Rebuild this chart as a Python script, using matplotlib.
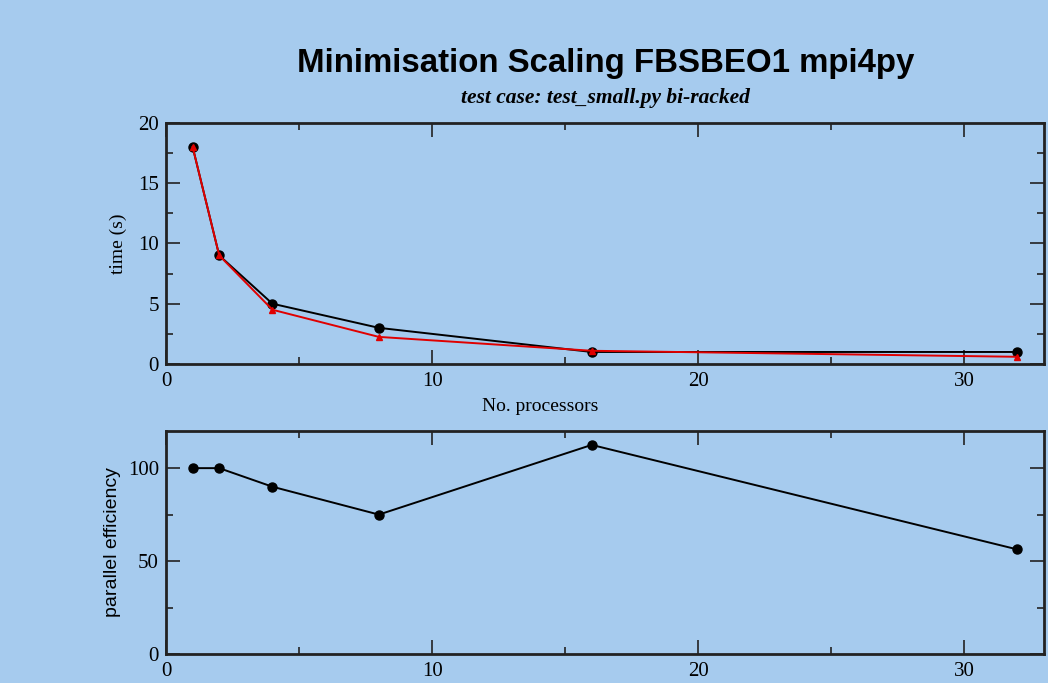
#!/usr/bin/env python
# -*- coding: utf-8 -*-
import matplotlib
matplotlib.use("Agg")
import matplotlib.pyplot as plt
from matplotlib.ticker import MultipleLocator

# data
procs = [1, 2, 4, 8, 16, 32]
time_black = [18, 9, 5, 3, 1, 1]
time_red = [18, 9, 4.5, 2.25, 1.1, 0.6]
efficiency = [100, 100, 90, 75, 112.5, 56.25]

title = "Minimisation Scaling FBSBEO1 mpi4py"
subtitle = "test case: test_small.py bi-racked"

bg = "#a6cbee"
serif = ["Liberation Serif", "DejaVu Serif"]
sans = ["Liberation Sans", "DejaVu Sans"]


def style_axes(ax, xmaj, xmin, ymaj, ymin):
    ax.set_facecolor(bg)
    for s in ax.spines.values():
        s.set_linewidth(2)
        s.set_color("#222222")
    ax.xaxis.set_major_locator(MultipleLocator(xmaj))
    ax.xaxis.set_minor_locator(MultipleLocator(xmin))
    ax.yaxis.set_major_locator(MultipleLocator(ymaj))
    ax.yaxis.set_minor_locator(MultipleLocator(ymin))
    ax.tick_params(which="both", direction="in", top=True, right=True,
                   color="#222222")
    ax.tick_params(which="major", length=10, width=1.2, labelsize=15)
    ax.tick_params(axis="x", which="major", pad=6)
    ax.tick_params(axis="y", which="major", pad=5)
    ax.tick_params(which="minor", length=5, width=1.2)
    for lab in ax.get_xticklabels() + ax.get_yticklabels():
        lab.set_family(serif)


fig = plt.figure(figsize=(10.48, 6.83), dpi=100)
fig.patch.set_facecolor(bg)

ax1 = fig.add_axes([0.1584, 0.467, 0.8378, 0.3533])
ax1.plot(procs, time_black, color="black", lw=1.4, marker="o", ms=6.5, zorder=3)
ax1.plot(procs, time_red, color="#e00000", lw=1.4, marker="^", ms=5,
         mec="#e00000", zorder=4)
ax1.set_xlim(0, 33)
ax1.set_ylim(0, 20)
style_axes(ax1, 10, 5, 5, 2.5)
ax1.set_xlabel("No. processors", family=serif, fontsize=14)
ax1.xaxis.set_label_coords(0.426, -0.14)
ax1.set_ylabel("time (s)", family=serif, fontsize=14)
ax1.yaxis.set_label_coords(-0.044, 0.5)

ax2 = fig.add_axes([0.1584, 0.0425, 0.8378, 0.3265])
ax2.plot(procs, efficiency, color="black", lw=1.4, marker="o", ms=6.5)
ax2.set_xlim(0, 33)
ax2.set_ylim(0, 120)
style_axes(ax2, 10, 5, 50, 25)
ax2.set_ylabel("parallel efficiency", family=sans, fontsize=14)
ax2.yaxis.set_label_coords(-0.051, 0.5)

fig.text(0.578, 0.907, title, ha="center", va="center", family=sans,
         fontsize=23.8, fontweight="bold")
fig.text(0.578, 0.856, subtitle, ha="center", va="center", family=serif,
         fontsize=15.5, fontweight="bold", style="italic")

fig.savefig("out.png", dpi=100, facecolor=bg)
